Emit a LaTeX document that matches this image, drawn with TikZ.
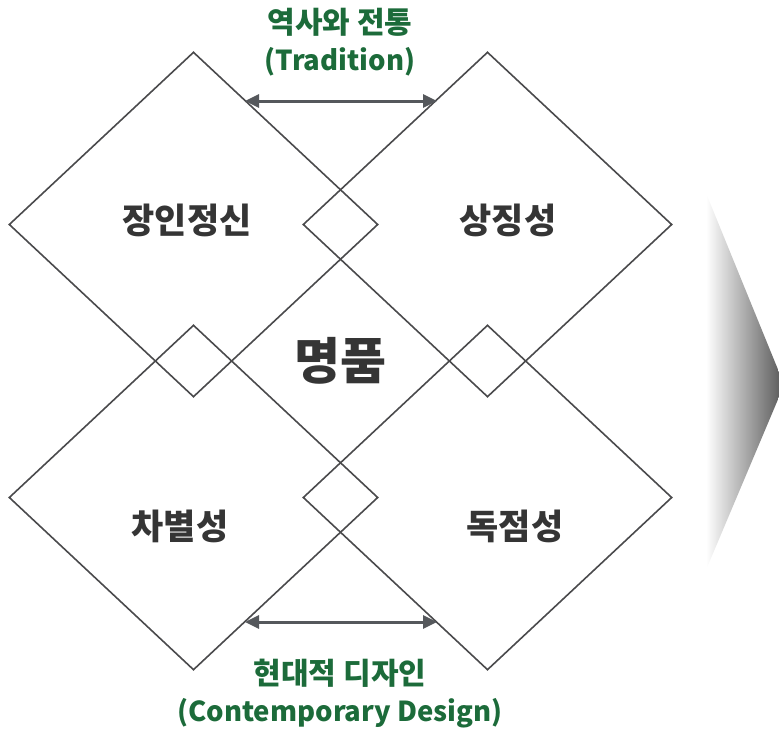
\documentclass[tikz,border=0pt]{standalone}
\usepackage{fontspec}
\newfontfamily\kr{Noto Sans CJK KR}
\usetikzlibrary{shapes.geometric,arrows.meta}
\definecolor{linegray}{HTML}{4A4A4C}
\definecolor{txtgray}{HTML}{353535}
\definecolor{kgreen}{HTML}{1C6B3A}
\definecolor{arrgray}{HTML}{55585C}
\tikzset{
  dia/.style={diamond, draw=linegray, line width=1.6pt, inner sep=0pt,
    minimum width=369pt, minimum height=345pt, aspect=1.07},
  lbl/.style={font=\kr\bfseries\fontsize{35}{40}\selectfont, text=txtgray},
  gk/.style={font=\kr\bfseries\fontsize{30}{34}\selectfont, text=kgreen},
  gl/.style={font=\kr\bfseries\fontsize{27.5}{32}\selectfont, text=kgreen},
  dblarrow/.style={draw=arrgray, line width=3pt, {Triangle[length=14pt,width=13pt]}-{Triangle[length=14pt,width=13pt]}}
}
\begin{document}
\begin{tikzpicture}[x=1pt,y=-1pt]
\useasboundingbox (0,0) rectangle (779,732);
% gradient chevron on the right
\shade[left color=white, right color=black!62]
  (706,193) -- (779,372) -- (779,397) -- (706,570) -- cycle;
% diamonds
\node[dia] (tl) at (193.5,224.5) {};
\node[dia] (tr) at (487.5,224.5) {};
\node[dia] (bl) at (193.5,497.5) {};
\node[dia] (br) at (487.5,497.5) {};
% labels
\node[lbl] (t1) at (187,220) {장인정신};
\node[lbl] (t2) at (508,220) {상징성};
\node[lbl] (t3) at (180,526) {차별성};
\node[lbl] (t4) at (515,526) {독점성};
\node[lbl, font=\kr\bfseries\fontsize{50}{56}\selectfont] (t0) at (340,361) {명품};
% arrows
\coordinate (a1) at (245,101);
\coordinate (a2) at (437,101);
\coordinate (b1) at (245,622);
\coordinate (b2) at (437,622);
\draw[dblarrow] (a1) -- (a2);
\draw[dblarrow] (b1) -- (b2);
\node[gk] (g1) at (340,22) {역사와 전통};
\node[gl] (g1e) at (340,62) {(Tradition)};
\node[gk] (g2) at (340,673) {현대적 디자인};
\node[gl] (g2e) at (340,713) {(Contemporary Design)};
\end{tikzpicture}
\end{document}
